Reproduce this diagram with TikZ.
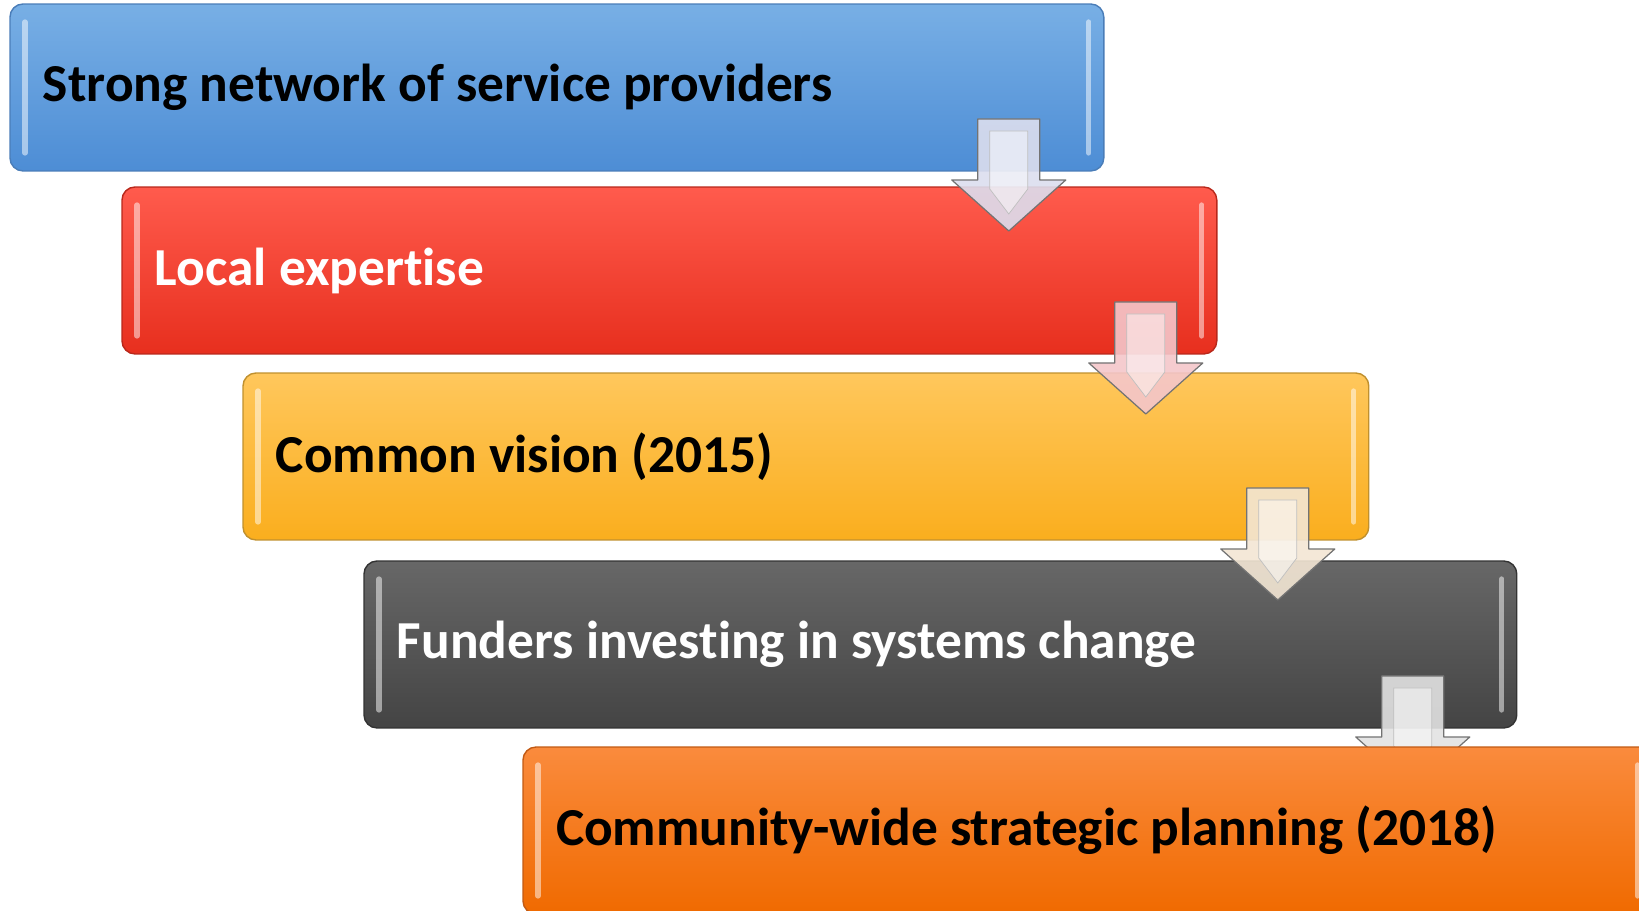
\documentclass[tikz,border=0pt]{standalone}
\usepackage{fontspec}
\setmainfont{Carlito}[Ligatures=NoCommon]
\usetikzlibrary{positioning}

\definecolor{blueTop}{HTML}{78AFE5}
\definecolor{blueBot}{HTML}{4D8DD5}
\definecolor{blueBd}{HTML}{4A7DB8}
\definecolor{redTop}{HTML}{FF5B4D}
\definecolor{redBot}{HTML}{E72F1E}
\definecolor{redBd}{HTML}{B8281B}
\definecolor{yellowTop}{HTML}{FFC75C}
\definecolor{yellowBot}{HTML}{FAAE1E}
\definecolor{yellowBd}{HTML}{C0902E}
\definecolor{grayTop}{HTML}{676767}
\definecolor{grayBot}{HTML}{444444}
\definecolor{grayBd}{HTML}{333333}
\definecolor{orangeTop}{HTML}{FA8B3D}
\definecolor{orangeBot}{HTML}{F06A00}
\definecolor{orangeBd}{HTML}{C25A14}
\definecolor{arrowA}{HTML}{DCDEEE}
\definecolor{arrowB}{HTML}{F4C6CA}
\definecolor{arrowC}{HTML}{F3E6D4}
\definecolor{arrowD}{HTML}{E2E2E2}

\tikzset{
  stage/.style 2 args={draw=#1Bd, line width=0.8pt, top color=#1Top, bottom color=#1Bot,
    text=#2, rounded corners=0.26cm, anchor=north west, outer sep=0pt,
    inner xsep=0.66cm, minimum height=3.34cm, align=flush left,
    font=\fontsize{30.4}{36}\selectfont\bfseries},
  bevel/.style={draw=white, draw opacity=0.5, line width=3pt, line cap=round},
  blockarrow/.style={draw=black!55, line width=0.7pt, fill opacity=0.9, line join=round},
  arrowbevel/.style={draw=black!25, line width=0.4pt, fill=white, fill opacity=0.45}
}

\begin{document}
\begin{tikzpicture}[x=0.02cm, y=-0.02cm]

\useasboundingbox (0,0) rectangle (1639,910);

\node[stage={blue}{black}, text width=20.56cm]  (b1) at (10,4)   {Strong network of service providers};
\node[stage={red}{white}, text width=20.58cm]   (b2) at (122,187) {Local expertise};
\node[stage={yellow}{black}, text width=21.2cm] (b3) at (243,373) {Common vision (2015)};
\node[stage={gray}{white}, text width=21.74cm]  (b4) at (364,561) {Funders investing in systems change};

% bevel strips on the boxes
\foreach \b in {b1,b2,b3,b4}
{
  \draw[bevel] ([xshift=0.3cm, yshift=-0.36cm]\b.north west) -- ([xshift=0.3cm, yshift=0.36cm]\b.south west);
  \draw[bevel] ([xshift=-0.3cm, yshift=-0.36cm]\b.north east) -- ([xshift=-0.3cm, yshift=0.36cm]\b.south east);
}

% arrows between the steps
\foreach \b/\dx/\ac in {b1/-95/arrowA, b2/-71/arrowB, b3/-91/arrowC, b4/-104/arrowD}
{
  \coordinate (t) at ([xshift=\dx*0.02cm, yshift=1.04cm]\b.south east);
  \draw[blockarrow, fill=\ac] (t) ++(-31,0) -- ++(62,0) -- ++(0,61) -- ++(26,0)
    -- ++(-57,51) -- ++(-57,-51) -- ++(26,0) -- cycle;
  \draw[arrowbevel] (t) ++(-19,12) -- ++(38,0) -- ++(0,58) -- ++(-19,25)
    -- ++(-19,-25) -- cycle;
}

\node[stage={orange}{black}, text width=21.28cm] (b5) at (523,747) {Community-wide strategic planning (2018)};
\draw[bevel] ([xshift=0.3cm, yshift=-0.36cm]b5.north west) -- ([xshift=0.3cm, yshift=0.36cm]b5.south west);
\draw[bevel] ([xshift=-0.3cm, yshift=-0.36cm]b5.north east) -- ([xshift=-0.3cm, yshift=0.36cm]b5.south east);

\end{tikzpicture}
\end{document}
